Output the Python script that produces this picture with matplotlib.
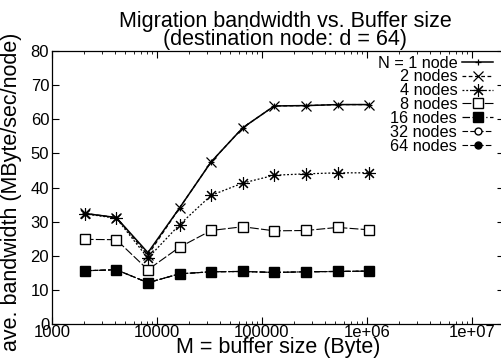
import numpy as np
import matplotlib
matplotlib.use('Agg')
import matplotlib.pyplot as plt
from matplotlib.ticker import FixedLocator, FixedFormatter, LogLocator, NullFormatter

plt.rcParams['font.family'] = ['Liberation Sans', 'DejaVu Sans']

# buffer sizes (Byte)
buf_size = [2048, 4096, 8192, 16384, 32768, 65536, 131072, 262144, 524288, 1048576]

# average bandwidth (MByte/sec/node) per number of nodes
bw_1 = [32.4, 31.2, 20.9, 34.0, 47.5, 57.5, 63.9, 64.0, 64.3, 64.3]
bw_2 = [32.4, 31.2, 20.2, 34.0, 47.5, 57.5, 63.9, 64.0, 64.3, 64.3]
bw_4 = [32.3, 31.0, 19.3, 29.1, 37.7, 41.3, 43.6, 44.0, 44.3, 44.3]
bw_8 = [24.8, 24.7, 15.9, 22.5, 27.4, 28.5, 27.3, 27.4, 28.3, 27.6]
bw_16 = [15.6, 15.9, 12.1, 14.7, 15.3, 15.4, 15.1, 15.3, 15.4, 15.5]
bw_32 = [15.6, 15.9, 12.1, 14.7, 15.3, 15.4, 15.1, 15.3, 15.4, 15.5]
bw_64 = [15.6, 15.9, 12.1, 14.7, 15.3, 15.4, 15.1, 15.3, 15.4, 15.5]

x_ticks = [1e3, 1e4, 1e5, 1e6, 1e7]
x_ticklabels = ['1000', '10000', '100000', '1e+06', '1e+07']
y_ticks = [0, 10, 20, 30, 40, 50, 60, 70, 80]

fig = plt.figure(figsize=(5.01, 3.6), dpi=100)
ax = fig.add_axes([52 / 501, 0.1, 451.6 / 501, (324 - 51) / 360])

# draw hidden series first so the 16-node squares sit on top
ax.plot(buf_size, bw_64, color='black', lw=0.8, ls=(0, (5, 2)), marker='o', ms=5, label='64 nodes')
ax.plot(buf_size, bw_32, color='black', lw=0.8, ls=(0, (5, 2)), marker='o', ms=5,
        mfc='white', label='32 nodes')
ax.plot(buf_size, bw_16, color='black', lw=0.9, ls=(0, (6, 2, 1, 2)), marker='s', ms=6.5, label='16 nodes')
ax.plot(buf_size, bw_8, color='black', lw=0.8, ls=(0, (8, 2)), marker='s', ms=6.5,
        mfc='white', label='8 nodes')
ax.plot(buf_size, bw_4, color='black', lw=0.9, ls=(0, (1.5, 1.5)), marker=(8, 2, 0), ms=9,
        mew=0.8, label='4 nodes')
ax.plot(buf_size, bw_2, color='black', lw=0.9, ls=(0, (3, 2)), marker='x', ms=7.5, mew=0.9,
        label='2 nodes')
ax.plot(buf_size, bw_1, color='black', lw=1.1, ls='-', marker='+', ms=5, mew=0.9,
        label='N = 1 node')

ax.set_xscale('log')
ax.set_xlim(1000, 2e7)
ax.set_ylim(0, 80)

ax.xaxis.set_major_locator(FixedLocator(x_ticks))
ax.xaxis.set_major_formatter(FixedFormatter(x_ticklabels))
ax.xaxis.set_minor_locator(LogLocator(base=10, subs=np.arange(2, 10)))
ax.xaxis.set_minor_formatter(NullFormatter())
ax.set_yticks(y_ticks)

ax.tick_params(axis='both', which='major', direction='in', length=5, width=0.8,
               top=True, right=True, labelsize=12, colors='black')
ax.tick_params(axis='both', which='minor', direction='in', length=2.5, width=0.6,
               top=True, right=True)
ax.tick_params(axis='x', pad=0.5)
ax.tick_params(axis='y', pad=2)
for s in ax.spines.values():
    s.set_linewidth(0.9)

fig.text(285 / 501, 1 - 27 / 360, 'Migration bandwidth vs. Buffer size', ha='center',
         va='baseline', fontsize=15.5)
fig.text(285 / 501, 1 - 45.5 / 360, '(destination node: d = 64)', ha='center',
         va='baseline', fontsize=15.5)
fig.text(278 / 501, 1 - 353 / 360, 'M = buffer size (Byte)', ha='center', va='baseline',
         fontsize=15.5)
fig.text(12 / 501, 1 - 192 / 360, 'ave. bandwidth (MByte/sec/node)', ha='center',
         va='center', rotation=90, fontsize=15.5)

handles, labels = ax.get_legend_handles_labels()
leg = ax.legend(handles[::-1], labels[::-1], loc='upper right',
                bbox_to_anchor=(493 / 501, 1 - 55.5 / 360), bbox_transform=fig.transFigure,
                frameon=False, markerfirst=False, fontsize=11.7, borderpad=0,
                borderaxespad=0, handlelength=1.9, handletextpad=0.3, labelspacing=-0.07)

fig.savefig('out.png', dpi=100)
